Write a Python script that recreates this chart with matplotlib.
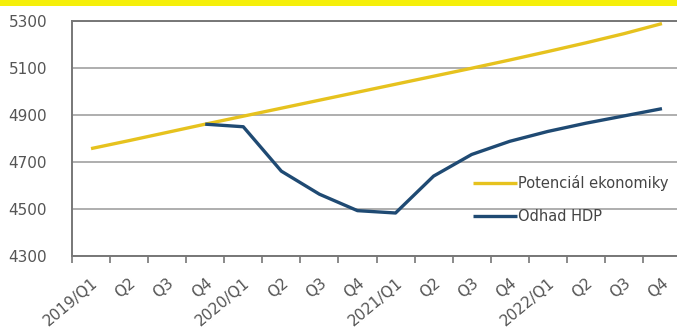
import matplotlib.pyplot as plt
from matplotlib.patches import Rectangle

# quarters 2019/Q1 .. 2022/Q4
quarters = ['2019/Q1', 'Q2', 'Q3', 'Q4',
            '2020/Q1', 'Q2', 'Q3', 'Q4',
            '2021/Q1', 'Q2', 'Q3', 'Q4',
            '2022/Q1', 'Q2', 'Q3', 'Q4']
potential = [4757, 4791, 4826, 4861, 4895, 4929, 4963, 4997,
             5031, 5065, 5099, 5134, 5170, 5207, 5246, 5289]
# GDP estimate starts at 2019/Q4
gdp_start = 3
gdp = [4861, 4850, 4661, 4563, 4493, 4483, 4640, 4732,
       4788, 4830, 4865, 4896, 4927]

W, H = 677, 333
fig = plt.figure(figsize=(W / 100, H / 100), dpi=100)
fig.patch.set_facecolor('white')

# yellow strip along the top edge
fig.patches.append(Rectangle((0, 1 - 6 / H), 1, 6 / H, transform=fig.transFigure,
                             facecolor='#f5ef0a', edgecolor='none'))

left, right, top, bottom = 72, 681, 21, 256
ax = fig.add_axes([left / W, 1 - bottom / H, (right - left) / W, (bottom - top) / H])

x = list(range(len(quarters)))
ax.plot(x, potential, color='#e6c21e', lw=2.4, label='Potenciál ekonomiky', solid_capstyle='butt')
ax.plot(x[gdp_start:], gdp, color='#1f4a73', lw=2.4, label='Odhad HDP', solid_capstyle='butt')

ax.set_xlim(-0.5, len(quarters) - 0.5)
ax.set_ylim(4300, 5300)
ax.set_yticks(range(4300, 5301, 200))
ax.grid(axis='y', color='#a8a8a8', lw=1.3)
ax.set_axisbelow(True)

# ticks at category boundaries, labels at the centres
ax.set_xticks([i - 0.5 for i in range(len(quarters) + 1)])
ax.set_xticklabels([])
ax.set_xticks(x, minor=True)
ax.set_xticklabels(quarters, minor=True, rotation=40, ha='right', va='top',
                   rotation_mode='anchor', fontsize=11, color='#555555')
ax.tick_params(axis='x', which='major', length=5, width=1.2, color='#777777', direction='out')
ax.tick_params(axis='x', which='minor', length=0, pad=14)
ax.tick_params(axis='y', length=0, pad=18, labelsize=11, labelcolor='#555555')

ax.spines['right'].set_visible(False)
for s in ['top', 'left', 'bottom']:
    ax.spines[s].set_color('#777777')
    ax.spines[s].set_linewidth(1.4)

leg = ax.legend(loc='upper left', bbox_to_anchor=(466 / W, 1 - 168 / H),
                bbox_transform=fig.transFigure, frameon=False, fontsize=10.5,
                handlelength=3.0, handletextpad=0.1, labelspacing=1.2, borderpad=0)
for t in leg.get_texts():
    t.set_color('#444444')

fig.savefig('out.png', dpi=100)
